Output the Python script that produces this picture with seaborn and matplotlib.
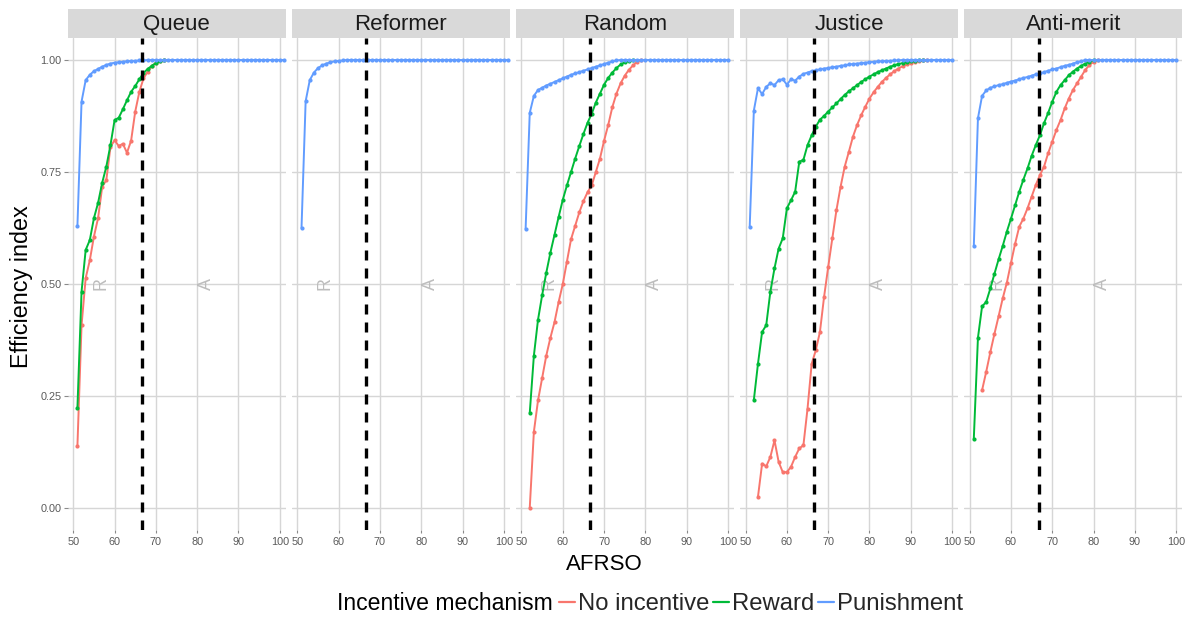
import numpy as np
import pandas as pd
import matplotlib
matplotlib.use("Agg")
import matplotlib.pyplot as plt
from matplotlib.lines import Line2D
import seaborn as sns

# ---------------- data ----------------
panels = ["Queue", "Reformer", "Random", "Justice", "Anti-merit"]
incentives = ["No incentive", "Reward", "Punishment"]
colors = ["#F8766D", "#00BA38", "#619CFF"]

x_ticks = [50, 60, 70, 80, 90, 100]
x_tick_labels = ["50", "60", "70", "80", "90", "100"]
y_ticks = [0.0, 0.25, 0.5, 0.75, 1.0]
y_tick_labels = ["0.00", "0.25", "0.50", "0.75", "1.00"]
threshold = 66.67
marks = [("R", 56.6, 0.5), ("A", 82.2, 0.5)]

# each series: first AFRSO value, then values at consecutive integer AFRSO
queue_no_start = 51
queue_no = [0.138, 0.408, 0.513, 0.553, 0.606, 0.647, 0.717, 0.732, 0.806, 0.821,
            0.808, 0.813, 0.793, 0.820, 0.885, 0.929, 0.959, 0.974, 0.986, 0.994,
            0.998, 1.0]
queue_reward_start = 51
queue_reward = [0.223, 0.483, 0.576, 0.598, 0.647, 0.681, 0.726, 0.762, 0.810, 0.866,
                0.871, 0.890, 0.910, 0.929, 0.942, 0.957, 0.971, 0.980, 0.987, 0.993,
                0.997, 1.0]
queue_punish_start = 51
queue_punish = [0.629, 0.907, 0.955, 0.967, 0.975, 0.980, 0.985, 0.989, 0.992, 0.994,
                0.995, 0.996, 0.997, 0.998, 0.998, 0.999, 0.999,
                1.0, 1.0, 1.0, 1.0, 1.0, 1.0, 1.0, 1.0, 1.0, 1.0, 1.0, 1.0, 1.0, 1.0,
                1.0, 1.0, 1.0, 1.0, 1.0, 1.0, 1.0, 1.0, 1.0, 1.0, 1.0, 1.0, 1.0, 1.0,
                1.0, 1.0, 1.0, 1.0, 1.0, 1.0]

reformer_punish_start = 51
reformer_punish = [0.625, 0.908, 0.955, 0.972, 0.982, 0.988, 0.992, 0.995, 0.997, 0.998,
                   0.999,
                   1.0, 1.0, 1.0, 1.0, 1.0, 1.0, 1.0, 1.0, 1.0, 1.0, 1.0, 1.0, 1.0,
                   1.0, 1.0, 1.0, 1.0, 1.0, 1.0, 1.0, 1.0, 1.0, 1.0, 1.0, 1.0, 1.0,
                   1.0, 1.0, 1.0, 1.0, 1.0, 1.0, 1.0, 1.0, 1.0, 1.0, 1.0, 1.0, 1.0, 1.0]

random_no_start = 52
random_no = [0.0, 0.17, 0.24, 0.29, 0.34, 0.38, 0.415, 0.46, 0.50, 0.55,
             0.60, 0.63, 0.66, 0.685, 0.705, 0.72, 0.75, 0.78, 0.82, 0.855,
             0.895, 0.925, 0.948, 0.965, 0.978, 0.988, 0.996, 1.0]
random_reward_start = 52
random_reward = [0.212, 0.34, 0.42, 0.475, 0.525, 0.57, 0.61, 0.65, 0.688, 0.72,
                 0.75, 0.78, 0.808, 0.835, 0.86, 0.88, 0.905, 0.925, 0.945, 0.96,
                 0.972, 0.982, 0.99, 0.995, 0.998, 1.0]
random_punish_start = 51
random_punish = [0.623, 0.882, 0.920, 0.933, 0.938, 0.943, 0.947, 0.951, 0.955, 0.959,
                 0.963, 0.967, 0.970, 0.973, 0.976, 0.979, 0.982, 0.985, 0.988, 0.991,
                 0.994, 0.997, 0.999,
                 1.0, 1.0, 1.0, 1.0, 1.0, 1.0, 1.0, 1.0, 1.0, 1.0, 1.0, 1.0, 1.0, 1.0,
                 1.0, 1.0, 1.0, 1.0, 1.0, 1.0, 1.0, 1.0, 1.0, 1.0, 1.0, 1.0, 1.0]

justice_no_start = 53
justice_no = [0.025, 0.099, 0.093, 0.114, 0.151, 0.103, 0.080, 0.080, 0.092, 0.114,
              0.133, 0.140, 0.222, 0.322, 0.352, 0.393, 0.471, 0.538, 0.602, 0.665,
              0.717, 0.762, 0.795, 0.829, 0.855, 0.877, 0.896, 0.914, 0.928, 0.940,
              0.951, 0.960, 0.968, 0.975, 0.981, 0.986, 0.990, 0.993, 0.996, 0.998,
              0.999, 1.0]
justice_reward_start = 52
justice_reward = [0.241, 0.322, 0.393, 0.408, 0.483, 0.535, 0.579, 0.602, 0.669, 0.687,
                  0.706, 0.773, 0.777, 0.810, 0.832, 0.851, 0.867, 0.875, 0.885, 0.894,
                  0.903, 0.913, 0.922, 0.930, 0.937, 0.944, 0.951, 0.957, 0.963, 0.968,
                  0.973, 0.977, 0.981, 0.985, 0.988, 0.991, 0.993, 0.995, 0.997, 0.998,
                  0.999, 1.0]
justice_punish_start = 51
justice_punish = [0.628, 0.887, 0.937, 0.924, 0.940, 0.948, 0.944, 0.955, 0.957, 0.945,
                  0.957, 0.954, 0.963, 0.969, 0.972, 0.975, 0.977, 0.979, 0.981, 0.982,
                  0.984, 0.985, 0.987, 0.988, 0.990, 0.991, 0.992, 0.993, 0.994, 0.995,
                  0.996, 0.997, 0.997, 0.998, 0.998, 0.999, 0.999,
                  1.0, 1.0, 1.0, 1.0, 1.0, 1.0, 1.0, 1.0, 1.0, 1.0, 1.0, 1.0, 1.0]

antimerit_no_start = 53
antimerit_no = [0.263, 0.304, 0.348, 0.389, 0.428, 0.468, 0.503, 0.547, 0.590, 0.628,
                0.646, 0.669, 0.695, 0.721, 0.743, 0.762, 0.792, 0.818, 0.844, 0.866,
                0.892, 0.914, 0.933, 0.948, 0.963, 0.978, 0.989, 0.996, 1.0]
antimerit_reward_start = 51
antimerit_reward = [0.155, 0.380, 0.450, 0.460, 0.490, 0.523, 0.555, 0.585, 0.617, 0.646,
                    0.676, 0.706, 0.733, 0.758, 0.786, 0.810, 0.832, 0.859, 0.882, 0.907,
                    0.929, 0.944, 0.955, 0.966, 0.974, 0.981, 0.987, 0.992, 0.996, 1.0]
antimerit_punish_start = 51
antimerit_punish = [0.585, 0.870, 0.920, 0.932, 0.938, 0.941, 0.944, 0.946, 0.949, 0.952,
                    0.954, 0.957, 0.960, 0.962, 0.965, 0.968, 0.970, 0.973, 0.976, 0.979,
                    0.981, 0.984, 0.987, 0.989, 0.992, 0.995, 0.997,
                    1.0, 1.0, 1.0, 1.0, 1.0, 1.0, 1.0, 1.0, 1.0, 1.0, 1.0, 1.0, 1.0,
                    1.0, 1.0, 1.0, 1.0, 1.0, 1.0, 1.0, 1.0, 1.0, 1.0]

series = [
    ("Queue", "No incentive", queue_no_start, queue_no),
    ("Queue", "Reward", queue_reward_start, queue_reward),
    ("Queue", "Punishment", queue_punish_start, queue_punish),
    ("Reformer", "Punishment", reformer_punish_start, reformer_punish),
    ("Random", "No incentive", random_no_start, random_no),
    ("Random", "Reward", random_reward_start, random_reward),
    ("Random", "Punishment", random_punish_start, random_punish),
    ("Justice", "No incentive", justice_no_start, justice_no),
    ("Justice", "Reward", justice_reward_start, justice_reward),
    ("Justice", "Punishment", justice_punish_start, justice_punish),
    ("Anti-merit", "No incentive", antimerit_no_start, antimerit_no),
    ("Anti-merit", "Reward", antimerit_reward_start, antimerit_reward),
    ("Anti-merit", "Punishment", antimerit_punish_start, antimerit_punish),
]

rows = []
for panel, inc, start, vals in series:
    for k, v in enumerate(vals):
        rows.append({"panel": panel, "Incentive": inc, "AFRSO": start + k, "Efficiency": v})
df = pd.DataFrame(rows)

# ---------------- style ----------------
sns.set_style("white")
plt.rcParams["font.family"] = ["Liberation Sans", "DejaVu Sans"]

W, H = 1189, 619
fig = plt.figure(figsize=(W / 100, H / 100), dpi=100)
fig.patch.set_facecolor("white")

panel_left0 = 67.5
panel_w = 218.5
panel_gap = 5.6
panel_top = 37.6
panel_bot = 530.4
strip_top = 9.0

palette = dict(zip(incentives, colors))
grid_col = "#D6D6D6"

for i, panel in enumerate(panels):
    left_px = panel_left0 + i * (panel_w + panel_gap)
    ax = fig.add_axes([left_px / W, 1 - panel_bot / H, panel_w / W,
                       (panel_bot - panel_top) / H])
    ax.set_facecolor("white")
    ax.set_xlim(48.6, 101.5)
    ax.set_ylim(-0.05, 1.05)
    ax.set_xticks(x_ticks)
    ax.set_xticklabels(x_tick_labels)
    ax.set_yticks(y_ticks)
    ax.grid(True, color=grid_col, linewidth=1.0, zorder=0)
    ax.set_axisbelow(True)
    for s in ax.spines.values():
        s.set_visible(False)

    for txt, xx, yy in marks:
        ax.text(xx, yy, txt, rotation=90, color="#BDBDBD", fontsize=13,
                ha="center", va="center", zorder=1)

    sub = df[df["panel"] == panel]
    sns.lineplot(data=sub, x="AFRSO", y="Efficiency", hue="Incentive",
                 hue_order=[h for h in incentives if h in set(sub["Incentive"])],
                 palette=palette, marker="o", markersize=3.0, markeredgewidth=0,
                 linewidth=1.4, estimator=None, sort=True, legend=False, ax=ax,
                 zorder=2)

    ax.axvline(threshold, color="black", linewidth=2.4, linestyle=(0, (3.0, 2.4)),
               zorder=4)

    ax.set_xlabel("")
    ax.set_ylabel("")
    ax.tick_params(axis="x", which="both", bottom=True, length=2.3, width=0.8,
                   color="#8A8A8A", labelsize=7.8, labelcolor="#5A5A5A", pad=2.6)
    if i == 0:
        ax.set_yticklabels(y_tick_labels)
        ax.tick_params(axis="y", which="both", left=True, length=3.0, width=0.8,
                       color="#8A8A8A", labelsize=7.8, labelcolor="#5A5A5A", pad=1.2)
    else:
        ax.tick_params(axis="y", left=False, labelleft=False)

    sax = fig.add_axes([left_px / W, 1 - panel_top / H, panel_w / W,
                        (panel_top - strip_top) / H])
    sax.set_facecolor("#D9D9D9")
    sax.set_xticks([])
    sax.set_yticks([])
    for s in sax.spines.values():
        s.set_visible(False)
    sax.text(0.5, 0.47, panel, ha="center", va="center", fontsize=16,
             color="#1A1A1A", transform=sax.transAxes)

fig.text(22 / W, 1 - 287 / H, "Efficiency index", rotation=90, ha="center",
         va="center", fontsize=16.8, color="black")
fig.text(604 / W, 1 - 565 / H, "AFRSO", ha="center", va="center", fontsize=16,
         color="black")

fig.text(337 / W, 1 - 604 / H, "Incentive mechanism", ha="left", va="center",
         fontsize=16.6, color="black")
handles = [Line2D([0], [0], color=c, lw=1.6) for c in colors]
fig.legend(handles, incentives, loc="center left",
           bbox_to_anchor=(559 / W, 1 - 604 / H), ncol=3, frameon=False,
           fontsize=17.2, handlelength=0.65, handletextpad=0.15, columnspacing=0.15,
           borderpad=0, borderaxespad=0)

fig.savefig("out.png", dpi=100, facecolor="white")
